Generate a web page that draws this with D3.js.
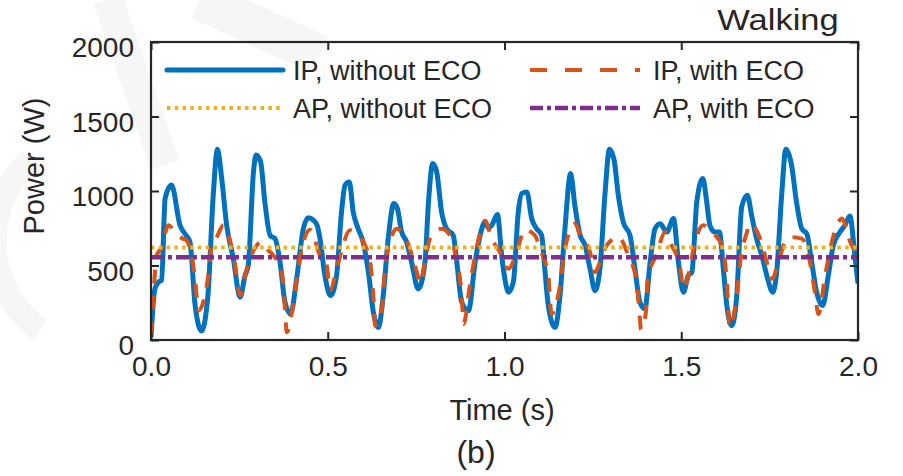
<!DOCTYPE html>
<html>
<head>
<meta charset="utf-8">
<script src="https://cdn.jsdelivr.net/npm/d3@7"></script>
<style>
  html, body { margin: 0; padding: 0; background: #fff; }
  svg { display: block; }
  text { font-family: "Liberation Sans", Arial, Helvetica, sans-serif; fill: #262626; }
</style>
</head>
<body>
<svg id="chart" width="903" height="476"></svg>
<script>
// ---------- data ----------
const timeIPWithout = [0.000,0.011,0.022,0.030,0.040,0.058,0.082,0.100,0.110,0.125,0.143,0.161,0.176,0.188,0.200,0.214,0.233,0.252,0.266,0.275,0.290,0.297,0.310,0.322,0.337,0.351,0.365,0.379,0.395,0.412,0.431,0.445,0.459,0.470,0.478,0.492,0.508,0.525,0.539,0.549,0.561,0.572,0.586,0.600,0.615,0.629,0.643,0.657,0.671,0.687,0.697,0.709,0.723,0.737,0.756,0.775,0.785,0.797,0.808,0.822,0.836,0.855,0.865,0.879,0.898,0.917,0.931,0.945,0.955,0.964,0.980,0.992,1.001,1.011,1.025,1.039,1.049,1.063,1.077,1.091,1.105,1.114,1.124,1.143,1.157,1.171,1.187,1.199,1.214,1.228,1.242,1.256,1.270,1.284,1.297,1.310,1.322,1.336,1.355,1.369,1.383,1.397,1.412,1.426,1.440,1.459,1.478,1.492,1.506,1.520,1.530,1.544,1.561,1.572,1.581,1.595,1.608,1.619,1.629,1.643,1.657,1.671,1.687,1.699,1.713,1.728,1.742,1.759,1.770,1.784,1.796,1.812,1.826,1.841,1.855,1.869,1.883,1.900,1.916,1.930,1.949,1.963,1.977,1.991,2.000];
const ipWithoutECO = [20,343,390,400,950,1040,770,700,660,230,60,300,970,1280,1084,770,545,287,433,500,1130,1241,1197,927,702,680,523,254,175,411,747,820,805,770,680,433,298,433,860,1039,1061,860,747,658,456,187,85,298,680,916,882,725,658,523,343,523,927,1185,1130,860,747,702,523,254,197,523,702,792,750,770,842,568,411,321,388,860,983,994,815,747,702,478,231,85,298,747,1118,904,702,635,478,332,478,971,1280,1208,971,792,702,478,254,209,523,747,781,725,815,523,321,433,456,927,1084,927,770,725,725,478,231,96,298,893,971,837,680,568,433,321,456,971,1280,1174,927,747,714,523,321,231,433,635,725,770,833,568,380];

const timeIPWith = [0.000,0.007,0.016,0.030,0.049,0.070,0.090,0.100,0.125,0.134,0.162,0.172,0.186,0.205,0.219,0.238,0.252,0.266,0.290,0.313,0.327,0.346,0.370,0.379,0.384,0.407,0.417,0.431,0.450,0.478,0.497,0.506,0.530,0.563,0.577,0.615,0.629,0.634,0.653,0.662,0.686,0.695,0.723,0.752,0.761,0.775,0.789,0.822,0.846,0.865,0.879,0.884,0.902,0.917,0.935,0.945,0.964,0.987,1.011,1.030,1.049,1.055,1.086,1.100,1.124,1.129,1.133,1.157,1.171,1.200,1.214,1.242,1.256,1.270,1.284,1.308,1.322,1.350,1.374,1.383,1.386,1.400,1.405,1.429,1.455,1.468,1.497,1.506,1.520,1.539,1.562,1.586,1.614,1.629,1.634,1.636,1.657,1.667,1.686,1.694,1.723,1.742,1.756,1.775,1.793,1.807,1.841,1.864,1.878,1.888,1.907,1.926,1.945,1.954,1.982,2.000];
const ipWithECO = [30,298,568,620,770,720,680,670,404,197,433,635,691,770,702,500,298,433,600,658,613,568,456,209,52,321,478,658,740,568,500,332,523,736,720,579,298,96,209,478,725,747,669,456,377,523,680,747,702,523,298,108,366,568,747,800,680,590,478,560,702,740,702,613,433,254,175,366,613,781,702,590,456,523,613,680,692,568,388,141,70,187,411,568,725,658,478,343,433,658,770,725,635,388,164,85,298,523,725,781,680,523,411,523,658,691,680,523,321,175,433,658,792,815,635,580];

const timeAP = [0.0, 2.0];
const apWithoutECO = [620, 620];
const apWithECO = [555, 555];

const xTicks = [0, 0.5, 1.0, 1.5, 2.0];
const xTickLabels = ["0.0", "0.5", "1.0", "1.5", "2.0"];
const yTicks = [0, 500, 1000, 1500, 2000];
const yTickLabels = ["0", "500", "1000", "1500", "2000"];

const seriesNames = ["IP, without ECO", "IP, with ECO", "AP, without ECO", "AP, with ECO"];

// ---------- layout ----------
const svg = d3.select("#chart");
const L = 151, R = 858, T = 42, B = 340;
const x = d3.scaleLinear().domain([0, 2]).range([L, R]);
const y = d3.scaleLinear().domain([0, 2000]).range([B, T]);

const colors = { blue: "#0072BD", orange: "#D95319", yellow: "#EDB120", purple: "#7E2F8E" };
const styles = [
  { color: colors.blue, width: 5, dash: null },
  { color: colors.orange, width: 4, dash: "14,12" },
  { color: colors.yellow, width: 4, dash: "3.5,4.3" },
  { color: colors.purple, width: 4.5, dash: "13,4,4,4" }
];

// faint watermark in background
const wm = svg.append("g").attr("fill", "none").attr("stroke", "#f6f6f6");
wm.append("path").attr("d", "M108,0 L165,165").attr("stroke-width", 30);
wm.append("path").attr("d", "M200,0 L320,55").attr("stroke-width", 40);
wm.append("path").attr("d", "M40,330 A110,110 0 0 1 30,160").attr("stroke-width", 24);

// clip
svg.append("clipPath").attr("id", "clip").append("rect")
  .attr("x", L).attr("y", T).attr("width", R - L).attr("height", B - T);

const plot = svg.append("g").attr("clip-path", "url(#clip)");

function drawSeries(ts, vs, st) {
  const data = ts.map((t, i) => [t, vs[i]]);
  const line = d3.line().x(d => x(d[0])).y(d => y(d[1])).curve(d3.curveMonotoneX);
  const p = plot.append("path").datum(data)
    .attr("d", line)
    .attr("fill", "none")
    .attr("stroke", st.color)
    .attr("stroke-width", st.width)
    .attr("stroke-linejoin", "round")
    .attr("stroke-linecap", "butt");
  if (st.dash) p.attr("stroke-dasharray", st.dash);
}

drawSeries(timeIPWithout, ipWithoutECO, styles[0]);
drawSeries(timeIPWith, ipWithECO, styles[1]);
drawSeries(timeAP, apWithoutECO, styles[2]);
drawSeries(timeAP, apWithECO, styles[3]);

// ---------- axes ----------
const axisColor = "#262626";
const tickLen = 8;
const ax = svg.append("g");

const xAxisB = d3.axisBottom(x).tickValues(xTicks).tickFormat((d, i) => xTickLabels[i]).tickSize(-tickLen).tickPadding(16);
const gxB = ax.append("g").attr("transform", `translate(0,${B})`).call(xAxisB);
const xAxisT = d3.axisTop(x).tickValues(xTicks).tickFormat("").tickSize(-tickLen);
const gxT = ax.append("g").attr("transform", `translate(0,${T})`).call(xAxisT);
const yAxisL = d3.axisLeft(y).tickValues(yTicks).tickFormat((d, i) => yTickLabels[i]).tickSize(-tickLen).tickPadding(17);
const gyL = ax.append("g").attr("transform", `translate(${L},0)`).call(yAxisL);
const yAxisR = d3.axisRight(y).tickValues(yTicks).tickFormat("").tickSize(-tickLen);
const gyR = ax.append("g").attr("transform", `translate(${R},0)`).call(yAxisR);

[gxB, gxT, gyL, gyR].forEach(g => {
  g.select(".domain").remove();
  g.selectAll(".tick line").attr("stroke", axisColor).attr("stroke-width", 2);
  g.selectAll(".tick text").attr("fill", axisColor).attr("font-size", 28)
    .attr("font-family", '"Liberation Sans", Arial, sans-serif');
});
gyL.selectAll(".tick text").attr("dy", "0.52em");
gxB.selectAll(".tick text").attr("dy", "0.71em");

ax.append("rect").attr("x", L).attr("y", T).attr("width", R - L).attr("height", B - T)
  .attr("fill", "none").attr("stroke", axisColor).attr("stroke-width", 2.2);

// ---------- labels ----------
svg.append("text").attr("x", 502).attr("y", 420).attr("text-anchor", "middle")
  .attr("font-size", 29).text("Time (s)");
svg.append("text").attr("transform", "translate(44,166) rotate(-90)").attr("text-anchor", "middle")
  .attr("font-size", 29).text("Power (W)");
svg.append("text").attr("transform", "translate(778,30) scale(1.15,1)").attr("text-anchor", "middle")
  .attr("font-size", 30).text("Walking");
svg.append("text").attr("x", 476).attr("y", 463).attr("text-anchor", "middle")
  .attr("font-size", 32).text("(b)");

// ---------- legend ----------
const legendPos = [
  { x1: 167, x2: 283, y: 70, tx: 293 },
  { x1: 530, x2: 640, y: 70, tx: 653 },
  { x1: 167, x2: 283, y: 108, tx: 293 },
  { x1: 530, x2: 640, y: 108, tx: 653 }
];
const lg = svg.append("g");
seriesNames.forEach((name, i) => {
  const p = legendPos[i], st = styles[i];
  const ln = lg.append("line").attr("x1", p.x1).attr("x2", p.x2).attr("y1", p.y).attr("y2", p.y)
    .attr("stroke", st.color).attr("stroke-width", st.width).attr("stroke-linecap", i === 0 ? "round" : "butt");
  if (st.dash) ln.attr("stroke-dasharray", i === 1 ? "17,18" : st.dash);
  lg.append("text").attr("x", p.tx).attr("y", p.y + 10).attr("font-size", 27).text(name);
});
</script>
</body>
</html>
